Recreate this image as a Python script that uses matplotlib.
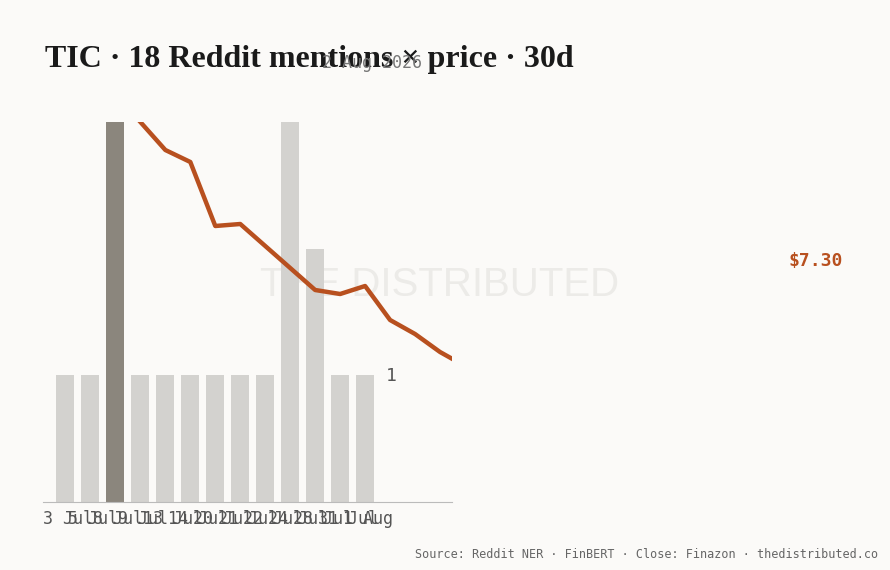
import matplotlib.pyplot as plt

# mentions per day (bars) and close price (line)
dates = ["3 Jul", "5 Jul", "8 Jul", "9 Jul", "13 Jul", "14 Jul", "20 Jul",
         "21 Jul", "22 Jul", "24 Jul", "28 Jul", "31 Jul", "1 Aug"]
mentions = [1, 1, 3, 1, 1, 1, 1, 1, 1, 3, 2, 1, 1]
price_x = [3, 4, 5, 6, 7, 8, 9, 10, 11, 12, 13, 14, 15, 16]
price = [8.60, 8.46, 8.40, 8.08, 8.09, 7.98, 7.87, 7.76, 7.74, 7.78,
         7.61, 7.54, 7.45, 7.38]

BG = "#fbfaf8"
fig = plt.figure(figsize=(8.9, 5.7), dpi=100, facecolor=BG)
ax = fig.add_axes([43/890, 1-502/570, 409/890, 380/570], facecolor=BG)

# watermark behind everything
fig.text(440/890, 1-285/570, "THE DISTRIBUTED", fontsize=29, color="#ecebe8",
         ha="center", va="center", zorder=-1, family="Liberation Sans")

xs = list(range(len(mentions)))
colors = ["#8b867d" if i == 2 else "#d3d2cf" for i in xs]
ax.bar(xs, mentions, width=0.72, color=colors, zorder=2)
ax.set_ylim(0, 3)
ax.set_xlim(-0.88, 15.48)
ax.set_yticks([])
ax.set_xticks([i - 0.9 for i in xs])
ax.set_xticklabels(dates, ha="left", family="DejaVu Sans Mono", fontsize=12, color="#555")
ax.tick_params(axis="x", length=0, pad=6)
for s in ["top", "right", "left"]:
    ax.spines[s].set_visible(False)
ax.spines["bottom"].set_color("#bbb")
ax.patch.set_alpha(0)

ax2 = ax.twinx()
ax2.plot(price_x, price, color="#b8501f", lw=3.2, zorder=3)
ax2.set_ylim(6.7, 8.6)
ax2.axis("off")

fig.text(386/890, 1-376/570, "1", fontsize=13, color="#555",
         family="DejaVu Sans Mono", va="center")
fig.text(788/890, 1-261/570, "$7.30", fontsize=13, color="#b8501f",
         family="DejaVu Sans Mono", weight="bold", va="center")
fig.text(45/890, 1-60/570, "TIC · 18 Reddit mentions × price · 30d", fontsize=23,
         family="Liberation Serif", weight="bold", color="#1a1a1a", va="center")
fig.text(372/890, 1-63/570, "2 Aug 2026", fontsize=12, color="#777",
         family="DejaVu Sans Mono", ha="center", va="center")
fig.text(878/890, 1-554/570, "Source: Reddit NER · FinBERT · Close: Finazon · thedistributed.co",
         fontsize=8.5, color="#666", family="DejaVu Sans Mono", ha="right", va="center")

fig.savefig("out.png", dpi=100, facecolor=BG)
